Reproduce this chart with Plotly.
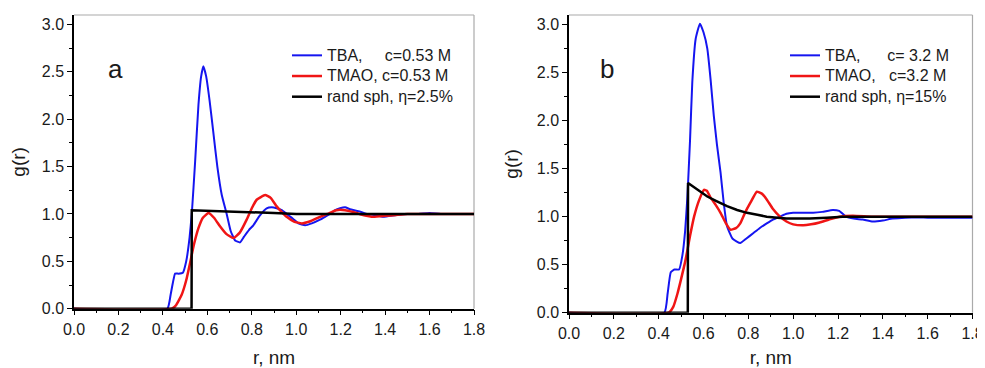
import plotly.graph_objects as go

# ---------------- data ----------------
# Panel a
a_tba_r = [0.0, 0.42, 0.435, 0.455, 0.47, 0.49, 0.505, 0.52, 0.53, 0.545, 0.56, 0.572, 0.582, 0.595, 0.61, 0.627,
           0.645, 0.665, 0.687, 0.705, 0.725, 0.747, 0.765, 0.787, 0.807, 0.835, 0.867, 0.89, 0.912, 0.935, 0.957,
           0.985, 1.01, 1.04, 1.07, 1.107, 1.13, 1.152, 1.175, 1.197, 1.22, 1.242, 1.28, 1.317, 1.35, 1.392, 1.45,
           1.5, 1.55, 1.6, 1.65, 1.7, 1.75, 1.8]
a_tba_g = [0.0, 0.0, 0.15, 0.37, 0.37, 0.38, 0.5, 0.75, 1.0, 1.55, 2.15, 2.45, 2.56, 2.45, 2.2, 1.86,
           1.5, 1.2, 1.0, 0.82, 0.72, 0.70, 0.76, 0.83, 0.88, 0.98, 1.06, 1.07, 1.06, 1.04, 1.0,
           0.95, 0.9, 0.88, 0.9, 0.94, 0.97, 1.0, 1.04, 1.06, 1.07, 1.05, 1.03, 1.0, 0.99, 0.97, 0.99,
           1.0, 1.0, 1.01, 1.0, 1.0, 1.0, 1.0]

a_tmao_r = [0.0, 0.44, 0.46, 0.485, 0.505, 0.522, 0.54, 0.56, 0.58, 0.605, 0.63, 0.657, 0.685, 0.717, 0.745,
            0.777, 0.8, 0.822, 0.86, 0.885, 0.912, 0.935, 0.957, 0.99, 1.025, 1.06, 1.107, 1.14, 1.18, 1.22, 1.257,
            1.3, 1.347, 1.4, 1.45, 1.5, 1.6, 1.7, 1.8]
a_tmao_g = [0.0, 0.0, 0.04, 0.15, 0.3, 0.48, 0.68, 0.85, 0.96, 1.01, 0.96, 0.87, 0.79, 0.745, 0.8,
            0.94, 1.06, 1.15, 1.2, 1.17, 1.08, 1.02, 0.97, 0.92, 0.9, 0.92, 0.97, 1.0, 1.04, 1.04, 1.02,
            0.99, 0.97, 0.98, 0.99, 1.0, 1.0, 1.0, 1.0]

a_sph_r = [0.0, 0.529, 0.53, 0.6, 0.7, 0.8, 0.9, 1.0, 1.2, 1.5, 1.8]
a_sph_g = [0.0, 0.0, 1.04, 1.035, 1.03, 1.02, 1.01, 1.0, 1.0, 1.0, 1.0]

# Panel b
b_tba_r = [0.0, 0.425, 0.44, 0.454, 0.47, 0.491, 0.506, 0.518, 0.528, 0.54, 0.55, 0.565, 0.584, 0.6, 0.617,
           0.632, 0.646, 0.66, 0.676, 0.69, 0.705, 0.73, 0.764, 0.79, 0.823, 0.85, 0.882, 0.91, 0.941, 0.97, 1.0,
           1.04, 1.089, 1.13, 1.177, 1.205, 1.236, 1.27, 1.31, 1.355, 1.4, 1.443, 1.5, 1.6, 1.7, 1.8]
b_tba_g = [0.0, 0.0, 0.2, 0.42, 0.45, 0.45, 0.6, 0.85, 1.2, 1.8, 2.4, 2.85, 3.01, 2.92, 2.75,
           2.42, 2.05, 1.75, 1.46, 1.15, 0.9, 0.77, 0.725, 0.77, 0.83, 0.88, 0.93, 0.97, 1.0, 1.03, 1.04,
           1.04, 1.04, 1.05, 1.07, 1.06, 1.0, 0.98, 0.97, 0.95, 0.96, 0.98, 0.99, 0.99, 0.99, 0.99]

b_tmao_r = [0.0, 0.445, 0.465, 0.484, 0.5, 0.52, 0.54, 0.558, 0.58, 0.602, 0.615, 0.631, 0.655, 0.676, 0.7,
            0.72, 0.745, 0.764, 0.785, 0.808, 0.838, 0.86, 0.882, 0.91, 0.941, 0.97, 1.0, 1.045, 1.08, 1.118,
            1.16, 1.207, 1.266, 1.35, 1.45, 1.55, 1.65, 1.8]
b_tmao_g = [0.0, 0.0, 0.06, 0.2, 0.35, 0.55, 0.8, 1.0, 1.17, 1.28, 1.27, 1.2, 1.12, 1.04, 0.93,
            0.865, 0.88, 0.93, 1.04, 1.14, 1.26, 1.24, 1.18, 1.08, 1.0, 0.95, 0.92, 0.91, 0.92, 0.94,
            0.97, 1.0, 1.01, 1.0, 1.0, 1.0, 1.0, 1.0]

b_sph_r = [0.0, 0.530, 0.531, 0.57, 0.617, 0.66, 0.705, 0.75, 0.794, 0.84, 0.882, 0.93, 0.97, 1.02, 1.074,
           1.15, 1.22, 1.4, 1.6, 1.8]
b_sph_g = [0.0, 0.0, 1.35, 1.29, 1.21, 1.16, 1.11, 1.07, 1.04, 1.02, 1.0, 0.99, 0.98, 0.98, 0.98,
           0.99, 1.0, 1.0, 1.0, 1.0]

x_ticks = [0.0, 0.2, 0.4, 0.6, 0.8, 1.0, 1.2, 1.4, 1.6, 1.8]
y_ticks = [0.0, 0.5, 1.0, 1.5, 2.0, 2.5, 3.0]

NB = "\u00a0"
names_a = ["TBA," + NB * 5 + "c=0.53 M", "TMAO, c=0.53 M", "rand sph, \u03b7=2.5%"]
names_b = ["TBA," + NB * 6 + "c= 3.2 M", "TMAO," + NB * 3 + "c=3.2 M", "rand sph, \u03b7=15%"]
panel_labels = ["a", "b"]

BLUE = "#1515f0"
RED = "#f01515"
BLACK = "#000000"
FONT = "Liberation Sans, Arial, sans-serif"
TXT = "#1a1a1a"

# The page body has an 8px margin: lay out in screen pixels and convert.
OFF = 8
W, H = 985 - OFF, 368 - OFF


def sx(s):
    return (s - OFF) / W


def sy(s):
    return 1 - (s - OFF) / H


def big(t):
    return '<span style="font-size:16px">' + t + '</span>'


SM = dict(shape="spline", smoothing=0.4)

fig = go.Figure()

# panel a
fig.add_trace(go.Scatter(x=a_tba_r, y=a_tba_g, name=big(names_a[0]), mode="lines",
                         line=dict(color=BLUE, width=2, **SM), xaxis="x", yaxis="y", legend="legend"))
fig.add_trace(go.Scatter(x=a_tmao_r, y=a_tmao_g, name=big(names_a[1]), mode="lines",
                         line=dict(color=RED, width=2.5, **SM), xaxis="x", yaxis="y", legend="legend"))
fig.add_trace(go.Scatter(x=a_sph_r, y=a_sph_g, name=big(names_a[2]), mode="lines",
                         line=dict(color=BLACK, width=2.5), xaxis="x", yaxis="y", legend="legend"))
# panel b
fig.add_trace(go.Scatter(x=b_tba_r, y=b_tba_g, name=big(names_b[0]), mode="lines",
                         line=dict(color=BLUE, width=2, **SM), xaxis="x2", yaxis="y2", legend="legend2"))
fig.add_trace(go.Scatter(x=b_tmao_r, y=b_tmao_g, name=big(names_b[1]), mode="lines",
                         line=dict(color=RED, width=2.5, **SM), xaxis="x2", yaxis="y2", legend="legend2"))
fig.add_trace(go.Scatter(x=b_sph_r, y=b_sph_g, name=big(names_b[2]), mode="lines",
                         line=dict(color=BLACK, width=2.5), xaxis="x2", yaxis="y2", legend="legend2"))

axis_common = dict(showgrid=False, zeroline=False, showline=True, linecolor="black", linewidth=1.5,
                   ticks="outside", ticklen=5, tickwidth=1.2, tickcolor="black", automargin=False,
                   ticklabeloverflow="allow",
                   tickfont=dict(family=FONT, size=16, color=TXT),
                   minor=dict(ticks="outside", ticklen=3, tickwidth=1.2, tickcolor="black"))

fig.update_layout(
    width=W, height=H, margin=dict(l=0, r=0, t=0, b=0),
    paper_bgcolor="white", plot_bgcolor="white",
    font=dict(family=FONT, color=TXT),
    xaxis=dict(domain=[sx(74), sx(474)], range=[0, 1.8], tickvals=x_ticks,
               ticktext=[f"{v:.1f}" for v in x_ticks],
               anchor="y", title=dict(text="r, nm", font=dict(size=19), standoff=18), **axis_common),
    yaxis=dict(domain=[sy(308.7), sy(15)], range=[0, 3.1], tickvals=y_ticks,
               ticktext=[f"{v:.1f}" for v in y_ticks],
               anchor="x", title=dict(text="g(r)", font=dict(size=19), standoff=13), **axis_common),
    xaxis2=dict(domain=[sx(569), sx(972.5)], range=[0, 1.8], tickvals=x_ticks,
                ticktext=[f"{v:.1f}" for v in x_ticks],
                anchor="y2", title=dict(text="r, nm", font=dict(size=19), standoff=18), **axis_common),
    yaxis2=dict(domain=[sy(312.7), sy(15)], range=[0, 3.1], tickvals=y_ticks,
                ticktext=[f"{v:.1f}" for v in y_ticks],
                anchor="x2", title=dict(text="g(r)", font=dict(size=19), standoff=13), **axis_common),
    legend=dict(x=sx(287), y=sy(40), xanchor="left", yanchor="top", bgcolor="rgba(0,0,0,0)",
                font=dict(family=FONT, size=13.6, color=TXT), tracegroupgap=0, itemwidth=30),
    legend2=dict(x=sx(785), y=sy(40), xanchor="left", yanchor="top", bgcolor="rgba(0,0,0,0)",
                 font=dict(family=FONT, size=13.6, color=TXT), tracegroupgap=0, itemwidth=30),
    showlegend=True,
)

# x-axis minor ticks at 0.1, y-axis minor at 0.25
for ax in ["xaxis", "xaxis2"]:
    fig.layout[ax].minor.dtick = 0.1
    fig.layout[ax].minor.tick0 = 0
for ax in ["yaxis", "yaxis2"]:
    fig.layout[ax].minor.dtick = 0.25
    fig.layout[ax].minor.tick0 = 0

# light grey frame on top / right
for xr, yr in [("x domain", "y domain"), ("x2 domain", "y2 domain")]:
    fig.add_shape(type="line", xref=xr, yref=yr, x0=0, x1=1, y0=1, y1=1,
                  line=dict(color="#aaaaaa", width=1.2), layer="below")
    fig.add_shape(type="line", xref=xr, yref=yr, x0=1, x1=1, y0=0, y1=1,
                  line=dict(color="#aaaaaa", width=1.2), layer="below")

# panel letters
fig.add_annotation(text=panel_labels[0], xref="paper", yref="paper", x=sx(106), y=sy(52),
                   showarrow=False, font=dict(family=FONT, size=26, color=TXT))
fig.add_annotation(text=panel_labels[1], xref="paper", yref="paper", x=sx(607), y=sy(52),
                   showarrow=False, font=dict(family=FONT, size=26, color=TXT))

fig.write_html("out.html")
